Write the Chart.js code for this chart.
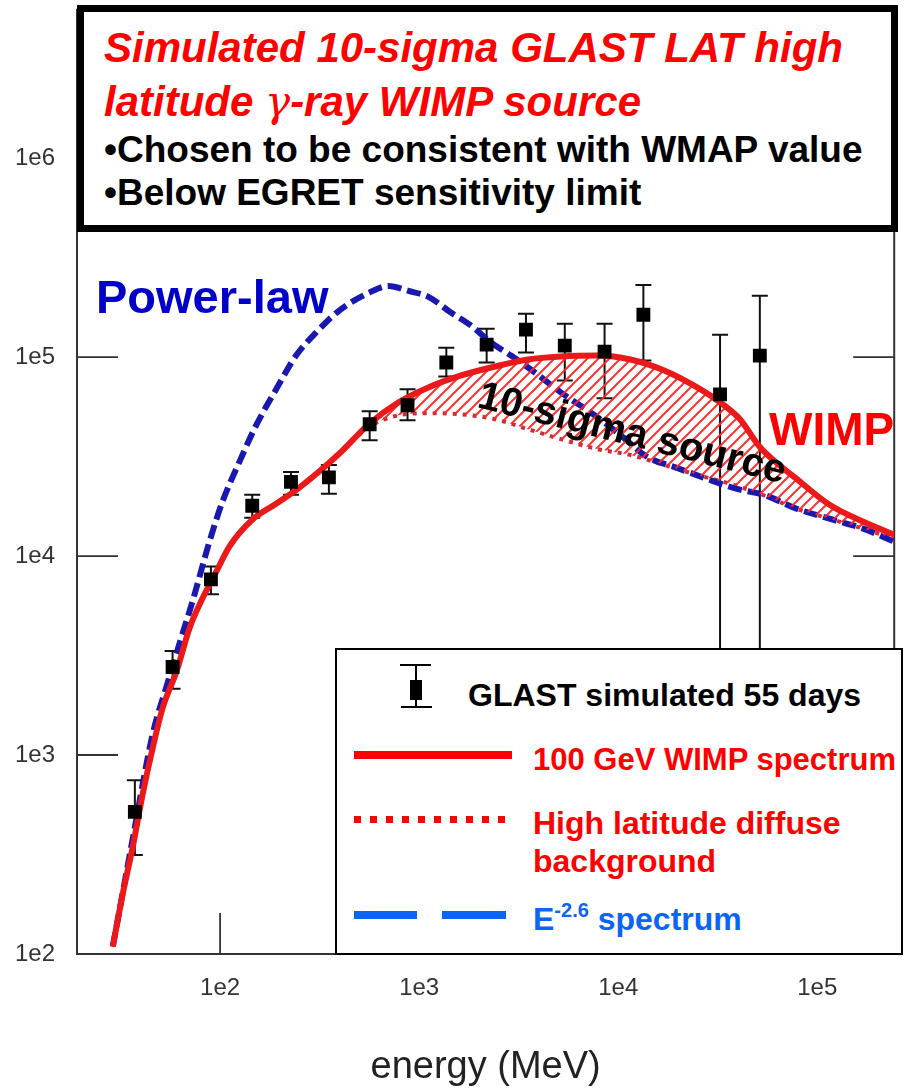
<!DOCTYPE html>
<html>
<head>
<meta charset="utf-8">
<script src="https://cdn.jsdelivr.net/npm/chart.js@4.4.0/dist/chart.umd.min.js"></script>
<style>
  html, body { margin: 0; padding: 0; background: #fff; overflow: hidden; }
  #wrap { position: relative; width: 904px; height: 1089px; font-family: "Liberation Sans", Arial, sans-serif; }
  #wrap canvas { position: absolute; left: 0; top: 0; }
  .abs { position: absolute; white-space: nowrap; line-height: 1; font-weight: bold; }
  .box { position: absolute; box-sizing: border-box; background: #fff; }
  .red { color: #ff0000; }
  .blk { color: #000; }
</style>
</head>
<body>
<div id="wrap">
  <canvas id="myChart" width="904" height="1089"></canvas>

  <!-- title box -->
  <div class="box" style="left:77px; top:5px; width:821px; height:227px; border:7px solid #000;"></div>
  <div class="abs red" style="left:104px; top:27px; font-size:42px; font-style:italic;">Simulated 10-sigma GLAST LAT high</div>
  <div class="abs red" style="left:104px; top:81px; font-size:42px; font-style:italic;">latitude <span style="font-family:'DejaVu Serif',serif; font-weight:normal;">γ</span>-ray WIMP source</div>
  <div class="abs blk" style="left:104px; top:131px; font-size:37px;">•Chosen to be consistent with WMAP value</div>
  <div class="abs blk" style="left:104px; top:174px; font-size:37px;">•Below EGRET sensitivity limit</div>

  <!-- labels on the plot -->
  <div class="abs" style="left:96px; top:273px; font-size:47px; color:#0000c8;">Power-law</div>
  <div class="abs red" style="left:769px; top:406px; font-size:46px;">WIMP</div>
  <div class="abs blk" style="left:476px; top:373px; font-size:40px; transform:rotate(14deg); transform-origin:0 34px;">10-sigma source</div>

  <!-- legend box -->
  <div class="box" style="left:335px; top:648px; width:568px; height:307px; border:2px solid #000;"></div>
  <div class="box" style="left:415px; top:665px; width:2px; height:42px; background:#000;"></div>
  <div class="box" style="left:400px; top:664px; width:31px; height:2px; background:#000;"></div>
  <div class="box" style="left:401px; top:706px; width:31px; height:2px; background:#000;"></div>
  <div class="box" style="left:410px; top:680px; width:12px; height:20px; background:#000;"></div>
  <div class="abs blk" style="left:468px; top:679px; font-size:32px;">GLAST simulated 55 days</div>

  <div class="box" style="left:354px; top:751px; width:158px; height:8px; background:#ff0000;"></div>
  <div class="abs red" style="left:533px; top:744px; font-size:31px;">100 GeV WIMP spectrum</div>

  <div class="box" style="left:354px; top:816px; width:151px; height:7px; background:repeating-linear-gradient(90deg, #ff0000 0 7px, transparent 7px 16px);"></div>
  <div class="abs red" style="left:533px; top:807px; font-size:32px;">High latitude diffuse</div>
  <div class="abs red" style="left:533px; top:845px; font-size:32px;">background</div>

  <div class="box" style="left:354px; top:911px; width:63px; height:8px; background:#0a64f5;"></div>
  <div class="box" style="left:442px; top:911px; width:64px; height:8px; background:#0a64f5;"></div>
  <div class="abs" style="left:533px; top:903px; font-size:32px; color:#0a64f5;">E<span style="font-size:20px; position:relative; top:-13px;">-2.6</span> spectrum</div>
</div>

<script>
// axis ticks (log decades)
const xTicks = [1e2, 1e3, 1e4, 1e5];
const yTicks = [1e2, 1e3, 1e4, 1e5, 1e6];

// energy grid of the model curves (MeV)
const curveE = [28.9, 32.5, 36.4, 40.9, 45.9, 51.5, 60.5, 70.2, 81.6, 95.8, 111.3, 145.0, 191.2, 249.2, 395,
  558, 788, 1113, 1627, 2407, 3520, 5146, 7880, 11520, 17040, 24920, 32480, 40890, 51460, 78790, 115200, 170400, 243500];
// 100 GeV WIMP + background
const wimpFlux = [109, 203, 345, 642, 1090, 1728, 2646, 4340, 6131, 8366, 11160, 15220, 18300, 22000, 32550,
  45970, 59230, 70390, 80820, 89640, 97200, 100600, 101700, 97200, 85600, 70390, 59230, 48700, 35270, 24410, 18090, 14870, 12810];
// high latitude diffuse background
const bkgFlux = [109, 203, 345, 642, 1090, 1728, 2646, 4340, 6131, 8366, 11160, 15220, 18300, 22000, 32550,
  44410, 50990, 52180, 51580, 48700, 43400, 38680, 34470, 32170, 28680, 25560, 23850, 22260, 20540, 17280, 15400, 13720, 12230];

// power-law (E^-2.6) curve
const plE = [28.9, 36.4, 45.9, 53.9, 62.6, 72.7, 88.4, 102.7, 124.9, 151.9, 191.2, 240.7, 303.0, 395, 558, 702, 884, 1113,
  1450, 1826, 2299, 2894, 3815, 5146, 7612, 10270, 14020, 19800, 27970, 39490, 53880, 78790, 115200, 170400, 243500];
const plFlux = [109, 380, 1281, 2226, 3652, 5923, 11820, 18730, 29690, 45460, 68800, 101700, 132600, 170800, 210200, 227800, 215000, 200700,
  166900, 143700, 118200, 101700, 83640, 66450, 50990, 40500, 31440, 27700, 24410, 21750, 20300, 17280, 15400, 13720, 11820];

// GLAST simulated 55 days
const dataE    = [37.3, 57.7, 89.9, 145, 227, 352, 564, 874, 1369, 2183, 3440, 5390, 8540, 13380, 32480, 51460];
const dataFlux = [518, 2770, 7630, 17890, 23580, 24830, 45970, 57220, 93870, 115500, 137300, 114200, 106500, 163100, 64940, 101700];
const dataLo   = [314, 2150, 6420, 15580, 20300, 20540, 38230, 48140, 79900, 93870, 105300, 76300, 62000, 96000, 100, 100];
const dataHi   = [746, 3331, 8860, 20300, 26450, 28680, 53400, 68800, 111500, 138800, 165000, 147100, 147100, 230400, 129600, 203000];

const pts = (xs, ys) => xs.map((x, i) => ({x: x, y: ys[i]}));

function hatch() {
  const c = document.createElement('canvas');
  c.width = 11; c.height = 11;
  const g = c.getContext('2d');
  g.strokeStyle = 'rgba(250,40,40,0.95)';
  g.lineWidth = 2;
  g.beginPath();
  g.moveTo(0, 11); g.lineTo(11, 0);
  g.moveTo(-5.5, 5.5); g.lineTo(5.5, -5.5);
  g.moveTo(5.5, 16.5); g.lineTo(16.5, 5.5);
  g.stroke();
  return g.createPattern(c, 'repeat');
}

// plot frame + inward ticks
const frame = {
  id: 'frame',
  beforeDatasetsDraw(chart) {
    const {ctx, chartArea: a, scales: {x, y}} = chart;
    ctx.save();
    ctx.strokeStyle = '#333';
    ctx.lineWidth = 2;
    ctx.strokeRect(a.left, a.top, a.right - a.left, a.bottom - a.top);
    ctx.lineWidth = 1.8;
    ctx.beginPath();
    yTicks.forEach(v => {
      const py = y.getPixelForValue(v);
      ctx.moveTo(a.left, py); ctx.lineTo(a.left + 41, py);
      ctx.moveTo(a.right - 41, py); ctx.lineTo(a.right, py);
    });
    xTicks.forEach(v => {
      const px = x.getPixelForValue(v);
      ctx.moveTo(px, a.bottom); ctx.lineTo(px, a.bottom - 41);
      ctx.moveTo(px, a.top); ctx.lineTo(px, a.top + 41);
    });
    ctx.stroke();
    ctx.restore();
  }
};

// error bars of the simulated points
const errorBars = {
  id: 'errorBars',
  beforeDatasetsDraw(chart) {
    const {ctx, chartArea: a, scales: {x, y}} = chart;
    ctx.save();
    ctx.beginPath();
    ctx.rect(a.left, a.top, a.right - a.left, a.bottom - a.top);
    ctx.clip();
    ctx.strokeStyle = '#111';
    ctx.lineWidth = 2;
    dataE.forEach((e, i) => {
      const px = x.getPixelForValue(e);
      const top = y.getPixelForValue(dataHi[i]);
      const bot = y.getPixelForValue(Math.max(dataLo[i], y.min));
      ctx.beginPath();
      ctx.moveTo(px, top); ctx.lineTo(px, bot);
      ctx.moveTo(px - 8, top); ctx.lineTo(px + 8, top);
      ctx.moveTo(px - 8, bot); ctx.lineTo(px + 8, bot);
      ctx.stroke();
    });
    ctx.restore();
  }
};

Chart.defaults.font.family = '"Liberation Sans", Arial, sans-serif';

const ctx = document.getElementById('myChart');
new Chart(ctx, {
  type: 'line',
  data: {
    datasets: [{
      label: 'High latitude diffuse background',
      data: pts(curveE, bkgFlux),
      borderColor: 'rgb(205,45,55)',
      borderWidth: 4,
      borderDash: [4, 6],
      pointRadius: 0,
      fill: false,
      cubicInterpolationMode: 'monotone',
      order: 3
    }, {
      label: '100 GeV WIMP spectrum',
      data: pts(curveE, wimpFlux),
      borderColor: 'rgb(235,25,25)',
      borderWidth: 6,
      pointRadius: 0,
      fill: 0,
      backgroundColor: hatch(),
      cubicInterpolationMode: 'monotone',
      order: 1
    }, {
      label: 'E-2.6 spectrum',
      data: pts(plE, plFlux),
      borderColor: 'rgb(25,25,175)',
      borderWidth: 6,
      borderDash: [14, 6],
      pointRadius: 0,
      fill: false,
      cubicInterpolationMode: 'monotone',
      order: 2
    }, {
      label: 'GLAST simulated 55 days',
      data: pts(dataE, dataFlux),
      showLine: false,
      pointStyle: 'rect',
      pointRadius: 9.8,
      pointBackgroundColor: '#000',
      pointBorderWidth: 0,
      order: 0
    }]
  },
  options: {
    responsive: false,
    animation: false,
    devicePixelRatio: 1,
    events: [],
    layout: { padding: { top: 5, right: 6, bottom: 0, left: 0 } },
    plugins: { legend: { display: false }, tooltip: { enabled: false } },
    scales: {
      x: {
        type: 'logarithmic',
        min: 19.1,
        max: 243500,
        bounds: 'data',
        grid: { display: false, drawTicks: false },
        border: { display: false },
        ticks: {
          color: '#333',
          font: { size: 24 },
          padding: 20,
          maxRotation: 0,
          autoSkip: false,
          callback: v => '1e' + Math.round(Math.log10(v))
        },
        afterBuildTicks: s => { s.ticks = xTicks.map(v => ({value: v})); },
        afterFit: s => { s.height = 135; s.paddingLeft = 0; s.paddingRight = 0; },
        title: {
          display: true,
          text: 'energy (MeV)',
          color: '#222',
          font: { size: 38, lineHeight: 1.14 },
          padding: { top: 0, bottom: 0 }
        }
      },
      y: {
        type: 'logarithmic',
        min: 100,
        max: 5.56e6,
        bounds: 'data',
        grid: { display: false, drawTicks: false },
        border: { display: false },
        ticks: {
          color: '#333',
          font: { size: 24 },
          padding: 22,
          autoSkip: false,
          callback: v => '1e' + Math.round(Math.log10(v))
        },
        afterBuildTicks: s => { s.ticks = yTicks.map(v => ({value: v})); },
        afterFit: s => { s.width = 77; s.paddingTop = 0; s.paddingBottom = 0; }
      }
    }
  },
  plugins: [frame, errorBars]
});
</script>
</body>
</html>
